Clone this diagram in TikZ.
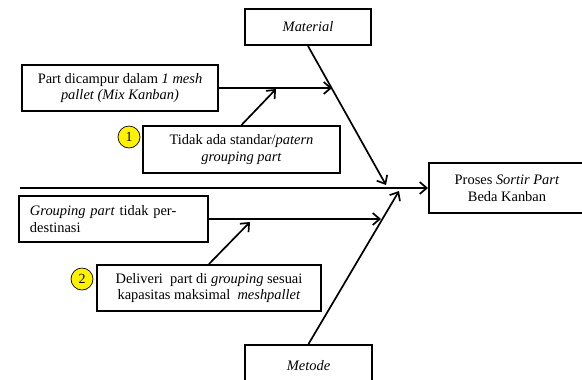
\documentclass[tikz,border=0pt]{standalone}
\usepackage{fontspec}
\setmainfont{Liberation Serif}
\usetikzlibrary{arrows.meta}
\begin{document}
\begin{tikzpicture}[x=1bp,y=-1bp,
  font=\fontsize{14.5}{17}\selectfont,
  box/.style={draw=black,line width=2bp,inner sep=0pt,align=center,anchor=center},
  num/.style={circle,draw=black,line width=0.7bp,fill=yellow,inner sep=0pt,minimum size=22bp,font=\fontsize{14}{15}\selectfont},
  conn/.style={line width=1.7bp,-{Straight Barb[length=7bp,width=12bp,line width=1.7bp]}}]
\useasboundingbox (0,0) rectangle (582,379);
\node[box,minimum width=126bp,minimum height=36bp] (mat) at (308,27) {\textit{Material}};
\node[box,minimum width=127bp,minimum height=42bp] (met) at (308.5,366) {\textit{Metode}};
\node[box,minimum width=196bp,minimum height=46bp] (part) at (120,88) {Part dicampur dalam \textit{1 mesh}\\\textit{pallet (Mix Kanban)}};
\node[box,minimum width=197bp,minimum height=47bp] (tidak) at (241.5,149.5) {Tidak ada standar/\textit{patern}\\\textit{grouping part}};
\node[box,minimum width=156bp,minimum height=50bp] (proses) at (507,188) {Proses \textit{Sortir Part}\\Beda Kanban};
\node[box,minimum width=189bp,minimum height=46bp,text width=167bp,align=left] (grp) at (113.5,219) {\textit{Grouping part} tidak per-\\destinasi};
\node[box,minimum width=224bp,minimum height=46bp] (deliv) at (209,288) {Deliveri~ part di \textit{grouping} sesuai\\kapasitas maksimal~ \textit{meshpallet}};
\node[num] (n1) at (129,137) {1};
\node[num] (n2) at (82,279) {2};
\coordinate (spst) at (20,188);
\coordinate (matend) at (386,185);
\coordinate (metend) at (399,191);
\coordinate (partend) at (332,88);
\coordinate (tidakend) at (276,89);
\coordinate (grpend) at (381,219);
\coordinate (delivend) at (250,222);
\draw[conn] (spst) -- (proses.west);
\draw[conn] (mat.south) -- (matend);
\draw[conn] (met.north) -- (metend);
\draw[conn] (part.east) -- (partend);
\draw[conn] (tidak.north) -- (tidakend);
\draw[conn] (grp.east) -- (grpend);
\draw[conn] (deliv.north) -- (delivend);
\end{tikzpicture}
\end{document}
